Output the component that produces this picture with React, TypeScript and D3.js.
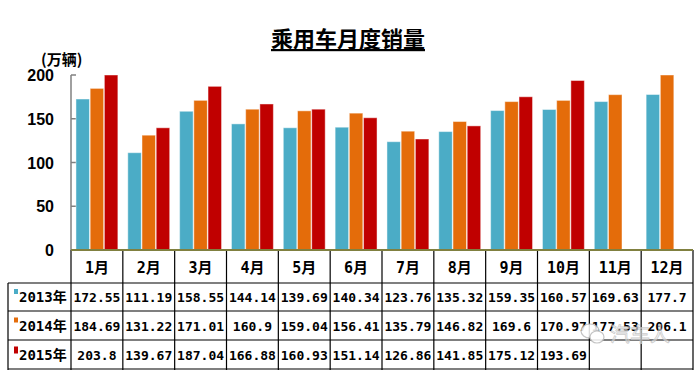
import React, { useRef, useEffect } from 'react';
import * as d3 from 'd3';

const months = ['1月', '2月', '3月', '4月', '5月', '6月', '7月', '8月', '9月', '10月', '11月', '12月'];
const seriesNames = ['2013年', '2014年', '2015年'];
const seriesColors = ['#4BACC6', '#E46C0A', '#C00000'];
const sales2013 = [172.55, 111.19, 158.55, 144.14, 139.69, 140.34, 123.76, 135.32, 159.35, 160.57, 169.63, 177.7];
const sales2014 = [184.69, 131.22, 171.01, 160.9, 159.04, 156.41, 135.79, 146.82, 169.6, 170.97, 177.53, 206.1];
const sales2015 = [203.8, 139.67, 187.04, 166.88, 160.93, 151.14, 126.86, 141.85, 175.12, 193.69, null, null];
const yTicks = [0, 50, 100, 150, 200];

export default function App(): JSX.Element {
  const svgRef = useRef<SVGSVGElement>(null);

  useEffect(() => {
    const el = svgRef.current;
    if (el == null) return;
    const svg = d3.select(el);
    svg.selectAll('*').remove();

    const W = 699;
    const H = 370;
    const left = 71;
    const right = 693;
    const top = 75;
    const bottom = 250;
    const tableLeft = 8;
    const rowEdges = [250, 283, 311, 340, 369];
    const series = [sales2013, sales2014, sales2015];

    svg.append('rect').attr('width', W).attr('height', H).attr('fill', '#fff');

    const x = d3.scaleBand<string>().domain(months).range([left, right]);
    const inner = d3
      .scaleBand<number>()
      .domain([0, 1, 2])
      .range([0, x.bandwidth()])
      .paddingInner(0.05)
      .paddingOuter(0.35);
    const y = d3.scaleLinear().domain([0, 200]).range([bottom, top]);

    // 标题
    svg
      .append('text')
      .attr('x', 348)
      .attr('y', 47)
      .attr('text-anchor', 'middle')
      .style('font-family', '"Noto Sans CJK SC", sans-serif')
      .style('font-size', '22px')
      .style('font-weight', 'bold')
      .style('text-decoration', 'underline')
      .text('乘用车月度销量');

    svg
      .append('text')
      .attr('x', 41)
      .attr('y', 65)
      .style('font-family', '"Noto Sans CJK SC", sans-serif')
      .style('font-size', '15px')
      .style('font-weight', 'bold')
      .text('(万辆)');

    // y 轴
    svg
      .append('line')
      .attr('x1', left)
      .attr('x2', left)
      .attr('y1', top)
      .attr('y2', bottom)
      .attr('stroke', '#808080')
      .attr('stroke-width', 1.5);
    svg
      .selectAll('.ytick')
      .data(yTicks)
      .join('line')
      .attr('x1', left)
      .attr('x2', left + 5)
      .attr('y1', (d) => y(d))
      .attr('y2', (d) => y(d))
      .attr('stroke', '#808080')
      .attr('stroke-width', 1.5);
    svg
      .selectAll('.ylab')
      .data(yTicks)
      .join('text')
      .attr('x', 54)
      .attr('y', (d) => y(d) + 6)
      .attr('text-anchor', 'end')
      .style('font-family', '"Liberation Sans", Arial, sans-serif')
      .style('font-size', '16px')
      .style('font-weight', 'bold')
      .text((d) => d);

    // 柱子
    series.forEach((vals, si) => {
      svg
        .append('g')
        .selectAll('rect')
        .data(vals.map((v, i) => ({ v, m: months[i] })).filter((d) => d.v != null))
        .join('rect')
        .attr('x', (d) => (x(d.m) as number) + (inner(si) as number))
        .attr('y', (d) => y(Math.min(d.v as number, 200)))
        .attr('width', inner.bandwidth())
        .attr('height', (d) => bottom - y(Math.min(d.v as number, 200)))
        .attr('fill', seriesColors[si])
        .attr('stroke', 'rgba(255,255,255,0.45)')
        .attr('stroke-width', 1);
    });

    // 表格
    const grid = svg.append('g').attr('stroke', '#000').attr('stroke-width', 1.2);
    rowEdges.slice(1).forEach((ry) => {
      grid.append('line').attr('x1', tableLeft).attr('x2', right).attr('y1', ry).attr('y2', ry);
    });
    grid.append('line').attr('x1', tableLeft).attr('x2', tableLeft).attr('y1', rowEdges[1]).attr('y2', H);
    const colEdges = months.map((m) => x(m) as number).concat([right]);
    colEdges.forEach((cx) => {
      grid.append('line').attr('x1', cx).attr('x2', cx).attr('y1', bottom).attr('y2', H);
    });

    // x 轴线
    svg
      .append('line')
      .attr('x1', left)
      .attr('x2', right)
      .attr('y1', bottom)
      .attr('y2', bottom)
      .attr('stroke', '#808040')
      .attr('stroke-width', 2);

    const cellFont = '"DejaVu Sans Mono", "Noto Sans CJK SC", monospace';
    svg
      .selectAll('.mlab')
      .data(months)
      .join('text')
      .attr('x', (d) => (x(d) as number) + x.bandwidth() / 2)
      .attr('y', (rowEdges[0] + rowEdges[1]) / 2 + 6)
      .attr('text-anchor', 'middle')
      .style('font-family', cellFont)
      .style('font-size', '15px')
      .style('font-weight', 'bold')
      .text((d) => d);

    series.forEach((vals, si) => {
      const cy = (rowEdges[si + 1] + rowEdges[si + 2]) / 2;
      svg
        .append('rect')
        .attr('x', 14)
        .attr('y', cy - 8)
        .attr('width', 4)
        .attr('height', si === 2 ? 7 : 5)
        .attr('fill', seriesColors[si]);
      svg
        .append('text')
        .attr('x', 19)
        .attr('y', cy + 5)
        .style('font-family', cellFont)
        .style('font-size', '14px')
        .style('font-weight', 'bold')
        .text(seriesNames[si]);
      svg
        .append('g')
        .selectAll('text')
        .data(vals.map((v, i) => ({ v, m: months[i] })).filter((d) => d.v != null))
        .join('text')
        .attr('x', (d) => (x(d.m) as number) + x.bandwidth() / 2)
        .attr('y', cy + 5)
        .attr('text-anchor', 'middle')
        .style('font-family', cellFont)
        .style('font-size', '13px')
        .style('font-weight', 'bold')
        .text((d) => String(d.v));
    });

    // 水印
    const wm = svg.append('g').attr('opacity', 0.85);
    wm.append('ellipse')
      .attr('cx', 590)
      .attr('cy', 331)
      .attr('rx', 9)
      .attr('ry', 7)
      .attr('fill', '#fff')
      .attr('stroke', '#bbb')
      .attr('stroke-width', 1.2);
    wm.append('ellipse')
      .attr('cx', 597)
      .attr('cy', 337)
      .attr('rx', 7)
      .attr('ry', 6)
      .attr('fill', '#fff')
      .attr('stroke', '#bbb')
      .attr('stroke-width', 1.2);
    wm.append('text')
      .attr('x', 610)
      .attr('y', 342)
      .style('font-family', '"Noto Sans CJK SC", sans-serif')
      .style('font-size', '20px')
      .attr('fill', 'rgba(255,255,255,0.6)')
      .attr('stroke', '#c4c4c4')
      .attr('stroke-width', 0.8)
      .text('汽车人');
  }, []);

  return (
    <div>
      <svg
        ref={svgRef}
        width={699}
        height={370}
        style={{ position: 'absolute', left: 0, top: 0 }}
      />
    </div>
  );
}
